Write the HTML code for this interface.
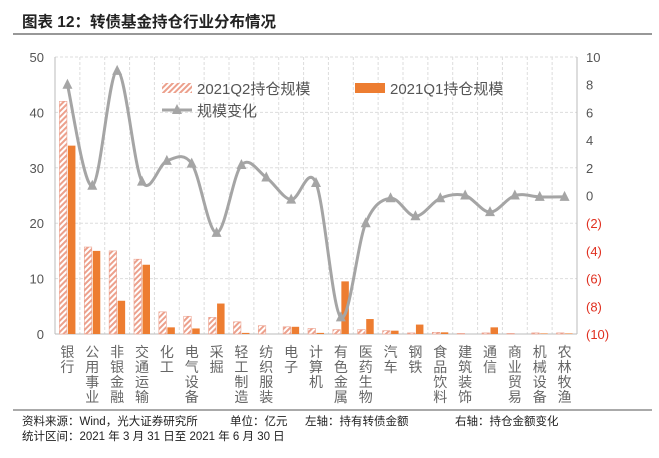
<!DOCTYPE html><html><head><meta charset="utf-8"><style>
body{margin:0;background:#fff;width:659px;height:453px;overflow:hidden;font-family:"Liberation Sans","Noto Sans CJK SC",sans-serif}
</style></head><body>
<svg id="s" width="659" height="453" xmlns="http://www.w3.org/2000/svg" font-family="Liberation Sans, Noto Sans CJK SC, sans-serif">
<defs><pattern id="h" width="4" height="4" patternUnits="userSpaceOnUse" patternTransform="rotate(45)"><rect width="4" height="4" fill="#fff"/><rect width="2" height="4" fill="#eca08c"/></pattern></defs>
<text x="22" y="27" font-size="15.5" font-weight="bold" fill="#222">图表  12：转债基金持仓行业分布情况</text>
<line x1="13" y1="34" x2="652" y2="34" stroke="#777" stroke-width="1.5"/>
<line x1="13" y1="410" x2="652" y2="410" stroke="#555" stroke-width="1"/>
<g font-size="11.5" fill="#222">
<text x="22" y="425">资料来源：Wind，光大证券研究所</text>
<text x="230" y="425">单位：亿元</text>
<text x="305" y="425">左轴：持有转债金额</text>
<text x="455" y="425">右轴：持仓金额变化</text>
<text x="22" y="440">统计区间：2021 年 3 月 31 日至 2021 年 6 月 30 日</text>
</g>
<g id="g"></g>
</svg>
<script>
var cats=["银行","公用事业","非银金融","交通运输","化工","电气设备","采掘","轻工制造","纺织服装","电子","计算机","有色金属","医药生物","汽车","钢铁","食品饮料","建筑装饰","通信","商业贸易","机械设备","农林牧渔"];
var q2=[42,15.7,15,13.5,4,3.2,3,2.2,1.5,1.3,1,0.8,0.8,0.6,0.2,0.3,0.1,0.2,0.1,0.2,0.2];
var q1=[34,15,6,12.5,1.2,1,5.5,0.2,0,1.3,0.2,9.5,2.7,0.6,1.7,0.3,0,1.2,0,0.1,0.1];
var ch=[8,0.7,9,1,2.5,2.3,-2.7,2.2,1.3,-0.3,0.9,-8.8,-2,-0.2,-1.5,-0.2,0,-1.2,0,-0.1,-0.1];
var L=55,R=577,T=57,B=334,w=(R-L)/21,o='';
function yl(v){return B-(v/50)*(B-T)}
function yr(v){return B-((v+10)/20)*(B-T)}
for(var i=0;i<=21;i++){var x=L+i*w;o+='<line x1="'+x+'" y1="'+T+'" x2="'+x+'" y2="'+B+'" stroke="#ddd" stroke-dasharray="3,2"/>';}
for(var v=0;v<=50;v+=10){var y=yl(v);o+='<line x1="'+L+'" y1="'+y+'" x2="'+R+'" y2="'+y+'" stroke="#ddd" stroke-dasharray="3,2"/>';o+='<text x="44" y="'+(y+5)+'" font-size="13" text-anchor="end" fill="#555">'+v+'</text>';}
for(var v=-10;v<=10;v+=2){var y=yr(v);var t=v<0?'('+(-v)+')':v;o+='<text x="586" y="'+(y+5)+'" font-size="13" fill="'+(v<0?'#e03020':'#555')+'">'+t+'</text>';}
o+='<line x1="'+L+'" y1="'+T+'" x2="'+L+'" y2="'+B+'" stroke="#bbb"/><line x1="'+R+'" y1="'+T+'" x2="'+R+'" y2="'+B+'" stroke="#bbb"/><line x1="'+L+'" y1="'+B+'" x2="'+R+'" y2="'+B+'" stroke="#bbb"/>';
var pts=[];
for(var i=0;i<21;i++){var c=L+w*(i+0.5);
o+='<rect x="'+(c-8)+'" y="'+yl(q2[i])+'" width="7.5" height="'+(B-yl(q2[i]))+'" fill="url(#h)" stroke="#eca08c" stroke-width="0.6"/>';
o+='<rect x="'+(c+0.5)+'" y="'+yl(q1[i])+'" width="7.5" height="'+(B-yl(q1[i]))+'" fill="#ed7d31"/>';
pts.push([c,yr(ch[i])]);
var ch_=cats[i].split('');for(var k=0;k<ch_.length;k++)o+='<text x="'+c+'" y="'+(357+k*15)+'" font-size="14" text-anchor="middle" fill="#666">'+ch_[k]+'</text>';}
var d='M'+pts[0];for(var i=0;i<20;i++){var p0=pts[Math.max(i-1,0)],p1=pts[i],p2=pts[i+1],p3=pts[Math.min(i+2,20)];
d+=' C'+(p1[0]+(p2[0]-p0[0])/6)+','+(p1[1]+(p2[1]-p0[1])/6)+' '+(p2[0]-(p3[0]-p1[0])/6)+','+(p2[1]-(p3[1]-p1[1])/6)+' '+p2[0]+','+p2[1];}
o+='<path d="'+d+'" fill="none" stroke="#a5a5a5" stroke-width="3"/>';
pts.forEach(function(p){o+='<polygon points="'+p[0]+','+(p[1]-6)+' '+(p[0]-5)+','+(p[1]+4)+' '+(p[0]+5)+','+(p[1]+4)+'" fill="#a5a5a5"/>';});
o+='<rect x="162" y="83" width="30" height="10" fill="url(#h)"/><text x="197" y="94" font-size="15" fill="#555">2021Q2持仓规模</text>';
o+='<rect x="355" y="83" width="30" height="10" fill="#ed7d31"/><text x="390" y="94" font-size="15" fill="#555">2021Q1持仓规模</text>';
o+='<line x1="162" y1="110" x2="192" y2="110" stroke="#a5a5a5" stroke-width="3"/><polygon points="177,104 172,114 182,114" fill="#a5a5a5"/><text x="197" y="116" font-size="15" fill="#555">规模变化</text>';
document.getElementById('g').innerHTML=o;
</script>
</body></html>
